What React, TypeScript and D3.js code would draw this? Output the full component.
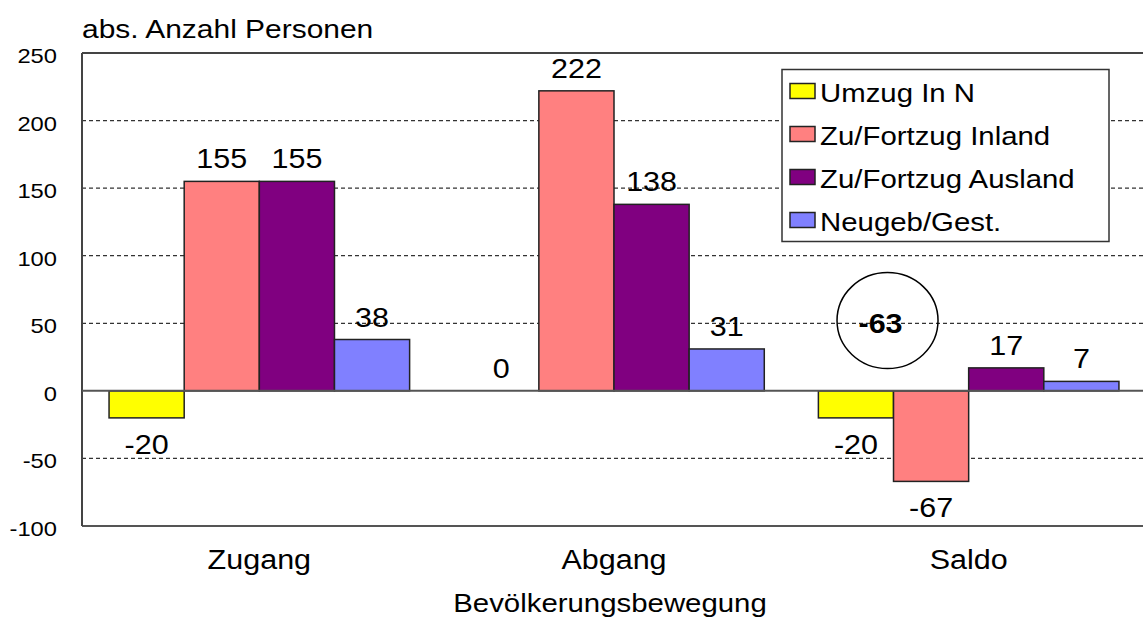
import React from "react";
import * as d3 from "d3";

const categories = ["Zugang", "Abgang", "Saldo"];
const seriesNames = ["Umzug In N", "Zu/Fortzug Inland", "Zu/Fortzug Ausland", "Neugeb/Gest."];
const umzugInN = [-20, 0, -20];
const zuFortzugInland = [155, 222, -67];
const zuFortzugAusland = [155, 138, 17];
const neugebGest = [38, 31, 7];
const seriesValues = [umzugInN, zuFortzugInland, zuFortzugAusland, neugebGest];
const seriesColors = ["#FFFF00", "#FF8080", "#800080", "#8080FF"];
const yTicks = [250, 200, 150, 100, 50, 0, -50, -100];
const saldoTotal = -63;
const saldoAnnotationValue = 52;

const W = 1143;
const H = 625;
const M = { left: 82, right: 1146, top: 53, bottom: 526 };
const SX = 1.13;
const FONT = "'Liberation Sans', Arial, sans-serif";

function T({ x, y, children, size, anchor = "start", weight = "normal" }: any) {
  return (
    <text
      transform={`translate(${x},${y}) scale(${SX},1)`}
      textAnchor={anchor}
      fontSize={size}
      fontWeight={weight}
      fontFamily={FONT}
      fill="#000"
    >
      {children}
    </text>
  );
}

export default function App() {
  const y = d3.scaleLinear().domain([-100, 250]).range([M.bottom, M.top]);
  const x0 = d3.scaleBand<string>().domain(categories).range([M.left, M.right]).padding(0);
  const x1 = d3
    .scaleBand<string>()
    .domain(seriesNames)
    .range([0, x0.bandwidth()])
    .paddingInner(0)
    .paddingOuter(0.36);

  const grid = yTicks.filter((t) => t !== 0 && t !== 250 && t !== -100);

  return (
    <svg width={W} height={H} style={{ position: "absolute", left: 0, top: 0, display: "block", background: "#fff" }}>
      <rect x={0} y={0} width={W} height={H} fill="#fff" />
      {/* grid */}
      {grid.map((t) => (
        <line key={t} x1={M.left} x2={M.right} y1={y(t)} y2={y(t)} stroke="#333" strokeWidth={1.2} strokeDasharray="4,3" />
      ))}
      {/* frame */}
      <line x1={M.left} x2={M.right} y1={y(250)} y2={y(250)} stroke="#444" strokeWidth={2} />
      <line x1={M.left} x2={M.right} y1={y(-100)} y2={y(-100)} stroke="#555" strokeWidth={2} />
      <line x1={M.left} x2={M.left} y1={y(250)} y2={y(-100)} stroke="#444" strokeWidth={2} />
      {/* tick labels */}
      {yTicks.map((t) => (
        <T key={t} x={57} y={y(t) + 10} size={21} anchor="end">
          {t}
        </T>
      ))}
      {/* bars */}
      {categories.map((c, ci) => (
        <g key={c}>
          {seriesNames.map((s, si) => {
            const v = seriesValues[si][ci];
            const bx = (x0(c) as number) + (x1(s) as number);
            const bw = x1.bandwidth();
            const top = y(Math.max(0, v));
            const bot = y(Math.min(0, v));
            return v !== 0 ? (
              <rect key={s} x={bx} y={top} width={bw} height={bot - top} fill={seriesColors[si]} stroke="#222" strokeWidth={1.5} />
            ) : null;
          })}
        </g>
      ))}
      {/* zero line */}
      <line x1={M.left} x2={M.right} y1={y(0)} y2={y(0)} stroke="#555" strokeWidth={2} />
      {/* value labels */}
      {categories.map((c, ci) =>
        seriesNames.map((s, si) => {
          const v = seriesValues[si][ci];
          const cx = (x0(c) as number) + (x1(s) as number) + x1.bandwidth() / 2;
          const ly = v >= 0 ? y(v) - 13 : y(v) + 36;
          return (
            <T key={c + s} x={cx} y={ly} size={27} anchor="middle">
              {v}
            </T>
          );
        })
      )}
      {/* saldo annotation */}
      {(() => {
        const cx = (x0("Saldo") as number) + (x1(seriesNames[1]) as number) - 6;
        const cy = y(saldoAnnotationValue);
        return (
          <g>
            <ellipse cx={cx} cy={cy} rx={50.5} ry={48} fill="none" stroke="#000" strokeWidth={1.5} />
            <T x={cx - 7} y={cy + 12} size={27} anchor="middle" weight="bold">
              {saldoTotal}
            </T>
          </g>
        );
      })()}
      {/* category labels */}
      {categories.map((c) => (
        <T key={c} x={(x0(c) as number) + x0.bandwidth() / 2} y={569} size={27} anchor="middle">
          {c}
        </T>
      ))}
      <T x={610} y={612} size={26} anchor="middle">
        Bevölkerungsbewegung
      </T>
      <T x={82} y={38} size={26.5}>
        abs. Anzahl Personen
      </T>
      {/* legend */}
      <g>
        <rect x={782} y={69.5} width={327} height={172} fill="#fff" stroke="#333" strokeWidth={1.5} />
        {seriesNames.map((s, i) => {
          const cy = 91 + i * 43;
          return (
            <g key={s}>
              <rect x={790} y={cy - 7.5} width={25} height={15} fill={seriesColors[i]} stroke="#222" strokeWidth={1.5} />
              <T x={820} y={cy + 11} size={26}>
                {s}
              </T>
            </g>
          );
        })}
      </g>
    </svg>
  );
}
